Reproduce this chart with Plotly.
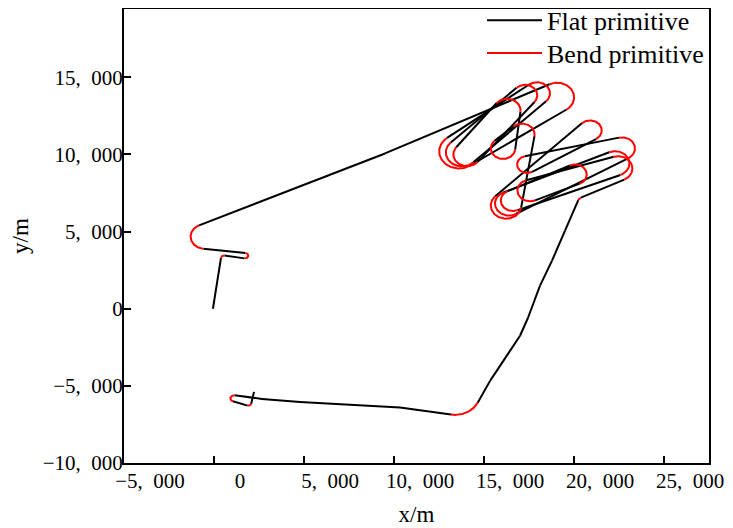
import numpy as np
import plotly.graph_objects as go

# ---------------- data (metres) ----------------
# path start / end points
start_x, start_y = -60.0, 0.0
end_x, end_y = 2222.0, -5390.0

# turn primitives along the path: centre, radius, direction (+1 = left/ccw, -1 = right/cw)
# radius 0 = plain way-point of the flat primitive
turn_cx = [556, 1722, -500, 9501,
           19057, 13612, 17946, 13779, 17279, 14057, 16280, 16057, 17112,
           16224, 20891, 17390, 22668, 16390, 22280, 16612, 20057, 17557, 22446,
           20501, 19501, 18779, 18113, 17446, 17001, 15335, 13390,
           10334, 4778, 2667, 1111, 1917]
turn_cy = [3279, 3442, 4676, 10066,
           13702, 10196, 13962, 10131, 13832, 10001, 12858, 10390, 11300,
           6689, 11559, 9351, 10390, 6819, 9416, 7014, 8702, 7663, 9092,
           6949, 5065, 3117, 1494, -584, -1753, -4676, -5481,
           -6397, -6039, -5845, -5812, -6137]
turn_r = [170, 180, 800, 0,
          950, 1100, 720, 900, 680, 760, 750, 680, 700,
          850, 650, 550, 720, 780, 800, 680, 650, 700, 800,
          280, 0, 0, 0, 0, 0, 0, 1400,
          0, 0, 0, 200, 150]
turn_dir = [-1, 1, -1, 1,
            -1, -1, -1, -1, -1, -1, -1, -1, -1,
            -1, -1, -1, -1, -1, -1, -1, -1, -1, -1,
            1, 1, 1, 1, 1, 1, 1, -1,
            1, 1, 1, 1, 1]

x_tick_vals = [-5000, 0, 5000, 10000, 15000, 20000, 25000]
x_tick_text = ["\u22125,\u2002000", "0", "5,\u2002000", "10,\u2002000", "15,\u2002000",
               "20,\u2002000", "25,\u2002000"]
y_tick_vals = [-10000, -5000, 0, 5000, 10000, 15000]
y_tick_text = ["\u221210,\u2002000", "\u22125,\u2002000", "0", "5,\u2002000",
               "10,\u2002000", "15,\u2002000"]


# ---------------- geometry of the primitives ----------------
def tangent(c1, r1, s1, c2, r2, s2):
    D = complex(c2[0] - c1[0], c2[1] - c1[1])
    k = s2 * r2 - s1 * r1
    L = np.sqrt(max(abs(D) ** 2 - k ** 2, 1e-9))
    u = D / complex(L, k)
    n = u * 1j
    p1 = complex(*c1) - s1 * r1 * n
    p2 = complex(*c2) - s2 * r2 * n
    return p1, p2


nodes = [((start_x, start_y), 0.0, 1)]
for cx, cy, r, s in zip(turn_cx, turn_cy, turn_r, turn_dir):
    nodes.append(((cx, cy), float(r), s))
nodes.append(((end_x, end_y), 0.0, 1))

seg = []
for a, b in zip(nodes[:-1], nodes[1:]):
    seg.append(tangent(a[0], a[1], a[2], b[0], b[1], b[2]))

flat_x, flat_y, bend_x, bend_y = [], [], [], []
for p1, p2 in seg:
    flat_x += [p1.real, p2.real, None]
    flat_y += [p1.imag, p2.imag, None]

for i in range(1, len(nodes) - 1):
    (cx, cy), r, s = nodes[i]
    if r <= 0:
        continue
    pin = seg[i - 1][1]
    pout = seg[i][0]
    c = complex(cx, cy)
    ta = np.angle(pin - c)
    tb = np.angle(pout - c)
    if s > 0:
        sweep = (tb - ta) % (2 * np.pi)
    else:
        sweep = -((ta - tb) % (2 * np.pi))
    t = ta + sweep * np.linspace(0, 1, 80)
    bend_x += list(cx + r * np.cos(t)) + [None]
    bend_y += list(cy + r * np.sin(t)) + [None]

# ---------------- figure ----------------
fig = go.Figure()
fig.add_trace(go.Scatter(x=flat_x, y=flat_y, mode="lines", name="Flat primitive",
                         legend="legend",
                         line=dict(color="black", width=2)))
fig.add_trace(go.Scatter(x=bend_x, y=bend_y, mode="lines", name="Bend primitive",
                         legend="legend2",
                         line=dict(color="#ff0000", width=2)))

font_fam = "Liberation Serif, Times New Roman, serif"
leg_common = dict(xanchor="left", yanchor="middle", bgcolor="rgba(0,0,0,0)",
                  font=dict(size=26, family=font_fam), itemwidth=55)
fig.update_layout(
    width=725, height=520,
    margin=dict(l=116, r=24, t=1, b=65, autoexpand=False),
    paper_bgcolor="white", plot_bgcolor="white",
    font=dict(family=font_fam, size=21, color="black"),
    showlegend=True,
    legend=dict(x=0.612, y=0.975, **leg_common),
    legend2=dict(x=0.612, y=0.903, **leg_common),
)
fig.update_xaxes(range=[-5000, 27500], tickvals=x_tick_vals, ticktext=x_tick_text,
                 ticks="inside", ticklen=7, tickwidth=2, tickcolor="black",
                 showline=True, linewidth=2, linecolor="black", mirror=True,
                 showgrid=False, zeroline=False, ticklabelshift=26, automargin=False,
                 ticklabelstandoff=-2,
                 title=dict(text="x/m", standoff=14, font=dict(size=23)))
fig.update_yaxes(range=[-10000, 19430], tickvals=y_tick_vals, ticktext=y_tick_text,
                 ticks="inside", ticklen=7, tickwidth=2, tickcolor="black",
                 showline=True, linewidth=2, linecolor="black", mirror=True,
                 showgrid=False, zeroline=False, automargin=False,
                 ticklabelstandoff=-5,
                 title=dict(text="y/m", standoff=8, font=dict(size=23)))

fig.write_html("out.html")
